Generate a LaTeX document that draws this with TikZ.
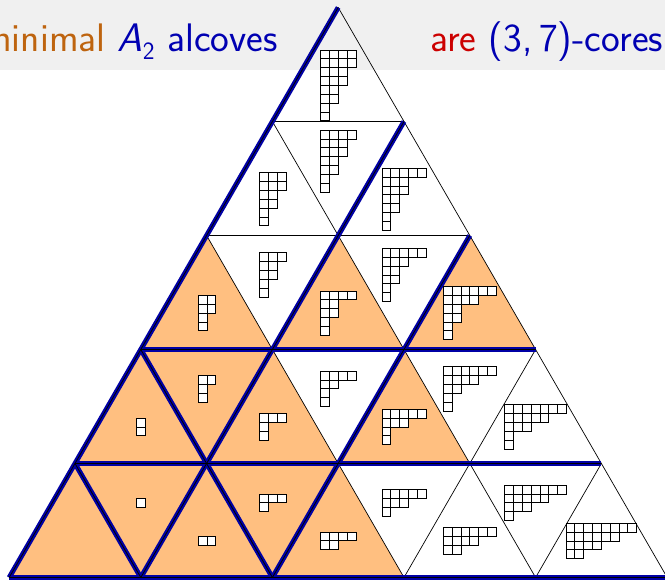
\documentclass[tikz,border=0pt]{standalone}
\definecolor{bandgray}{RGB}{240,240,240}
\definecolor{shadeor}{RGB}{255,191,128}
\definecolor{wallblue}{RGB}{0,0,165}
\definecolor{txtorange}{RGB}{190,100,15}
\definecolor{txtblue}{RGB}{0,0,178}
\definecolor{txtred}{RGB}{204,0,0}
\tikzset{
  thinline/.style={line width=0.7pt, draw=black},
  wall/.style={line width=5pt, draw=wallblue, line join=round},
  wallcore/.style={line width=0.8pt, draw=black},
  alcove/.style={fill=shadeor},
  cell/.style={fill=white, draw=black, line width=0.8pt},
  titletext/.style={font=\fontsize{39.8}{44}\selectfont\sffamily, inner sep=0pt}
}
\newcommand\ydiag[3]{%
  \foreach \len [count=\ii] in {#3}{%
    \foreach \jj in {1,...,\len}{%
      \draw[cell] ({#1+(\jj-1)*8.85},{#2+(\ii-1)*8.85}) rectangle ++(8.85,8.85);
    }%
  }%
}
\begin{document}
\begin{tikzpicture}[x=1pt,y=-1pt]
\path[use as bounding box] (0,0) rectangle (665,580);
\clip (0,0) rectangle (665,580);
% band
\fill[bandgray] (0,0) rectangle (665,70.5);
\node[titletext, anchor=base east, text=txtblue] (t1) at (278,52)
  {\textcolor{txtorange}{minimal} \textit{A}$_{\mathsf{2}}$ alcoves};
\node[titletext, anchor=base west] (t2) at (430,52)
  {\textcolor{txtred}{are} \textcolor{txtblue}{(3,\,7)-cores}};
% lattice vertices
\foreach \r in {0,...,5}{
  \foreach \k in {0,...,\r}{
    \coordinate (v\r\k) at ({338.2-65.8*\r+131.6*\k},{7.5+114*\r});
  }
}
% shaded alcoves
\fill[alcove] (v20)--(v30)--(v31)--cycle;
\fill[alcove] (v21)--(v31)--(v32)--cycle;
\fill[alcove] (v22)--(v32)--(v33)--cycle;
\fill[alcove] (v30)--(v40)--(v41)--cycle;
\fill[alcove] (v30)--(v31)--(v41)--cycle;
\fill[alcove] (v31)--(v41)--(v42)--cycle;
\fill[alcove] (v32)--(v42)--(v43)--cycle;
\fill[alcove] (v40)--(v50)--(v51)--cycle;
\fill[alcove] (v40)--(v41)--(v51)--cycle;
\fill[alcove] (v41)--(v51)--(v52)--cycle;
\fill[alcove] (v41)--(v42)--(v52)--cycle;
\fill[alcove] (v42)--(v52)--(v53)--cycle;
% thin lattice
\foreach \r in {1,...,5}{ \draw[thinline] (v\r0) -- (v\r\r); }
\foreach \k in {0,...,4}{ \draw[thinline] (v\k\k) -- (v5\k); }
\foreach \m/\e in {0/5,1/4,2/3,3/2,4/1}{ \draw[thinline] (v\m0) -- (v5\e); }
% walls
\foreach \a/\b in {v00/v50, v11/v51, v22/v52, v30/v52, v40/v51, v30/v33, v40/v44, v50/v55}{
  \draw[wall] (\a) -- (\b);
}
\foreach \a/\b in {v00/v50, v11/v51, v22/v52, v30/v52, v40/v51, v30/v33, v40/v44, v50/v55}{
  \draw[wallcore] (\a) -- (\b);
}
% Young diagrams
\ydiag{320.7}{50}{4,4,3,3,2,2,1,1}
\ydiag{259.4}{172.7}{3,3,2,2,1,1}
\ydiag{320.7}{130.2}{4,3,3,2,2,1,1}
\ydiag{382}{168.3}{5,3,3,2,2,1,1}
\ydiag{198.1}{295.4}{2,2,1,1}
\ydiag{259.4}{252.9}{3,2,2,1,1}
\ydiag{320.7}{291}{4,2,2,1,1}
\ydiag{382}{248.5}{5,3,2,2,1,1}
\ydiag{443.3}{286.6}{6,4,2,2,1,1}
\ydiag{136.8}{418.1}{1,1}
\ydiag{198.1}{375.6}{2,1,1}
\ydiag{259.4}{413.7}{3,1,1}
\ydiag{320.7}{371.2}{4,2,1,1}
\ydiag{382}{409.3}{5,3,1,1}
\ydiag{443.3}{366.8}{6,4,2,1,1}
\ydiag{504.6}{404.9}{7,5,3,1,1}
\ydiag{136.8}{498.3}{1}
\ydiag{198.1}{536.4}{2}
\ydiag{259.4}{493.9}{3,1}
\ydiag{320.7}{532}{4,2}
\ydiag{382}{489.5}{5,3,1}
\ydiag{443.3}{527.6}{6,4,2}
\ydiag{504.6}{485.1}{7,5,3,1}
\ydiag{565.9}{523.2}{8,6,4,2}
\end{tikzpicture}
\end{document}
